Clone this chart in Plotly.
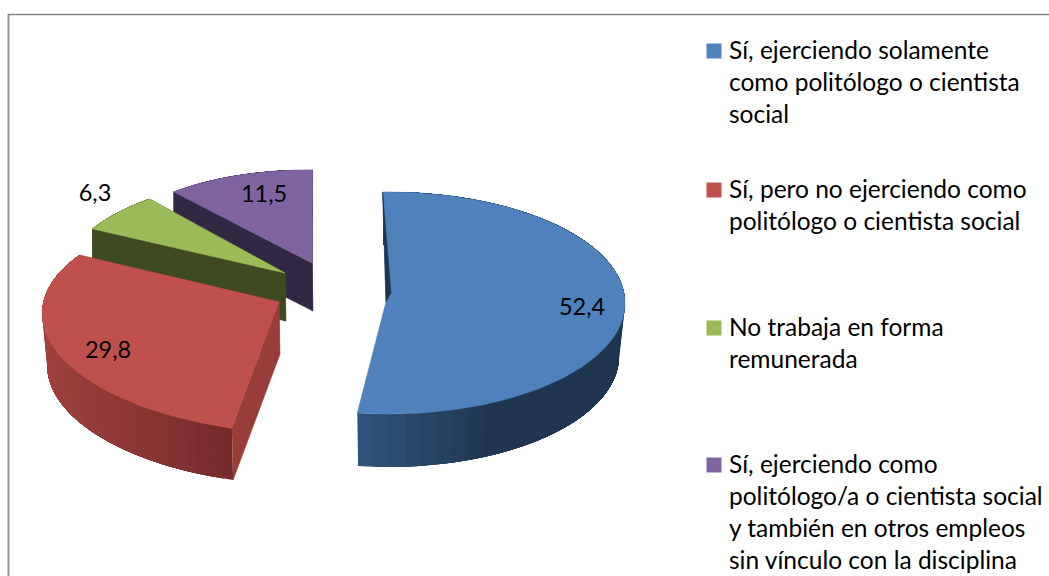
import numpy as np
import plotly.graph_objects as go

categories = [
    "Sí, ejerciendo solamente<br>como politólogo o cientista<br>social",
    "Sí, pero no ejerciendo como<br>politólogo o cientista social",
    "No trabaja en forma<br>remunerada",
    "Sí, ejerciendo como<br>politólogo/a o cientista social<br>y también en otros empleos<br>sin vínculo con la disciplina",
]
values = [52.4, 29.8, 6.3, 11.5]
value_labels = ["52,4", "29,8", "6,3", "11,5"]
top_colors = ["#4f81bd", "#c0504d", "#9bbb59", "#8064a2"]

FONT = "Lato, Carlito, Calibri, sans-serif"
START = -1.2          # first slice angle, degrees clockwise from north
# Per-slice projection of the exploded 3D pie: arc centre, axes, apex, depth
proj = [
    dict(c=(388, 303), ax=(237, 0), bx=(0, -111), apex=(386, 302), depth=53, shrink=.975,
         wall=[(0, "#30527a"), (.17, "#203650"), (1, "#1f3550")], cut=None),
    dict(c=(294, 320), ax=(250, 20), bx=(30, -111.6), apex=(279, 302), depth=52, shrink=.98,
         wall=[(0, "#762b2b"), (.25, "#8e3836"), (.6, "#9e413e"), (1, "#a14340")], cut="#983d3a"),
    dict(c=(285, 273), ax=(221, 4), bx=(19, -97), apex=(285, 273), depth=48, shrink=1,
         wall=[(0, "#3f4a22"), (1, "#3f4a22")], cut="#3f4a22"),
    dict(c=(312, 263), ax=(210, 4), bx=(5, -93), apex=(312, 263), depth=48, shrink=1,
         wall=[(0, "#322843"), (1, "#322843")], cut="#322843"),
]
label_pos = [(582, 309), (108, 352), (95, 195), (264, 196)]
legend_first_line = [51, 190, 328, 465]


def arc(p, t0, t1, n, scale=1.0):
    t = np.radians(np.linspace(t0, t1, n))
    u, v = np.sin(t), np.cos(t)
    x = p["c"][0] + scale * (p["ax"][0] * u + p["bx"][0] * v)
    y = p["c"][1] + (p["ax"][1] * u + p["bx"][1] * v)
    return x, y


def lerp(stops, f):
    for (f0, c0), (f1, c1) in zip(stops, stops[1:]):
        if f <= f1:
            k = (f - f0) / (f1 - f0)
            a = [int(c0[i:i + 2], 16) for i in (1, 3, 5)]
            b = [int(c1[i:i + 2], 16) for i in (1, 3, 5)]
            return "rgb(%d,%d,%d)" % tuple(round(a[i] + (b[i] - a[i]) * k) for i in range(3))
    return stops[-1][1]


def poly(fig, xs, ys, color, lw=0.6):
    fig.add_trace(go.Scatter(x=list(xs), y=list(ys), mode="lines", fill="toself", fillcolor=color,
                             line=dict(color=color, width=lw), hoverinfo="skip", showlegend=False))


ends = START + np.cumsum(values) * 3.6
starts = ends - np.array(values) * 3.6

fig = go.Figure()
for i in [3, 2, 1, 0]:
    p, t0, t1 = proj[i], starts[i], ends[i]
    d, sc = p["depth"], p["shrink"]
    # outer curved wall: overlapping strips painted in order, giving the shading
    n = 48
    edges = np.linspace(t0, t1, n + 1)
    order = range(n - 1, -1, -1) if i == 0 else range(n)
    for k in order:
        lo, hi = (t0, edges[k + 1]) if i == 0 else (edges[k], t1)
        xa, ya = arc(p, lo, hi, 40)
        xb, yb = arc(p, hi, lo, 40, sc)
        f = 1 - k / (n - 1) if i == 0 else k / (n - 1)
        poly(fig, np.r_[xa, xb], np.r_[ya, yb + d], lerp(p["wall"], f), lw=0)
    ax_, ay_ = p["apex"]
    # flat cut faces
    if p["cut"]:
        x1, y1 = arc(p, t0, t0, 1)
        x1b, y1b = arc(p, t0, t0, 1, sc)
        poly(fig, [x1[0], ax_, ax_ + 1, x1b[0]], [y1[0], ay_, ay_ + d, y1b[0] + d], p["cut"])
        x2, y2 = arc(p, t1, t1, 1)
        poly(fig, [x2[0], ax_, ax_, x2[0]], [y2[0], ay_, ay_ + d, y2[0] + d], p["cut"])
    # top face
    xs, ys = arc(p, t0, t1, 120)
    poly(fig, np.r_[ax_, xs, ax_], np.r_[ay_, ys, ay_], top_colors[i])
    if i == 0:
        # thin sliver of the inner wall seen beside the first slice
        x0, y0 = arc(p, t0, t0, 1)
        poly(fig, [x0[0] - .5, ax_ + 5, ax_, x0[0] - .5], [y0[0], ay_ - 9, ay_, y0[0]], "#1f3550")

# value labels
fig.add_trace(go.Scatter(x=[q[0] for q in label_pos], y=[q[1] for q in label_pos], text=value_labels,
                         mode="text", textposition="middle center", textfont=dict(family=FONT, size=23.5, color="#000"),
                         hoverinfo="skip", showlegend=False))
# legend: swatch on each entry's first line, entry text beside it
annotations = []
for name, color, yl in zip(categories, top_colors, legend_first_line):
    fig.add_trace(go.Scatter(x=[714], y=[yl], name=name.replace("<br>", " "), mode="markers",
                             marker=dict(symbol="square", size=15, color=color, line=dict(width=0)),
                             hoverinfo="skip", showlegend=False))
    annotations.append(dict(x=729, y=yl - 16.5, xref="x", yref="y", xanchor="left", yanchor="top", align="left",
                            text=name, showarrow=False, borderpad=0, borderwidth=0,
                            font=dict(family=FONT, size=24.5, color="#000")))

fig.update_layout(
    width=1049, height=576, margin=dict(l=0, r=0, t=0, b=0),
    paper_bgcolor="white", plot_bgcolor="white", showlegend=False,
    xaxis=dict(range=[0, 1049], visible=False, fixedrange=True),
    yaxis=dict(range=[576, 0], visible=False, fixedrange=True),
    annotations=annotations,
    shapes=[
        dict(type="line", x0=8.5, x1=8.5, y0=14, y1=576, line=dict(color="#969696", width=2)),
        dict(type="line", x0=8, x1=1049, y0=14.5, y1=14.5, line=dict(color="#868686", width=1.5)),
    ],
)
fig.write_html("out.html", post_script="document.body.style.margin='0';document.body.style.overflow='hidden';",
               config=dict(displayModeBar=False))
